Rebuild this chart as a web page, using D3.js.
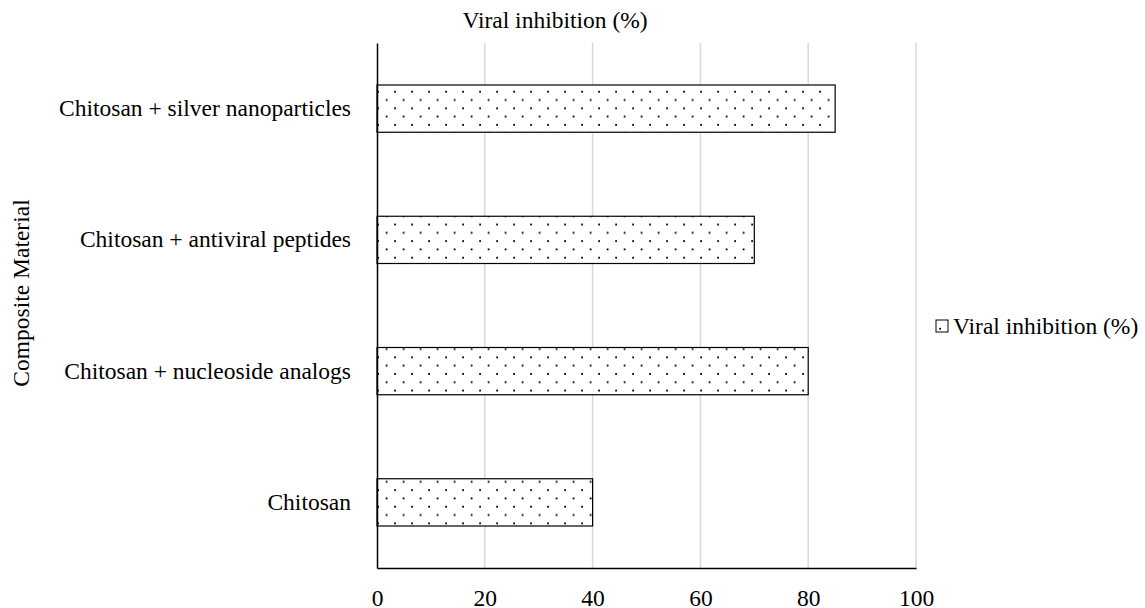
<!DOCTYPE html>
<html>
<head>
<meta charset="utf-8">
<script src="https://cdn.jsdelivr.net/npm/d3@7"></script>
<style>
  body { margin: 0; background: #fff; }
  text { font-family: "Liberation Serif", "Times New Roman", serif; fill: #000; }
</style>
</head>
<body>
<svg></svg>
<script>
var width = 1145;
var height = 608;

// data
var categories = ["Chitosan + silver nanoparticles", "Chitosan + antiviral peptides",
                  "Chitosan + nucleoside analogs", "Chitosan"];
var values = [85, 70, 80, 40];
var xTicks = [0, 20, 40, 60, 80, 100];
var seriesName = "Viral inhibition (%)";

var plot = { left: 377, right: 916, top: 43, bottom: 568 };
var fontSize = 23.5;

var svg = d3.select("svg")
            .attr("width", width)
            .attr("height", height);

// dotted fill
var defs = svg.append("defs");
var pat = defs.append("pattern")
              .attr("id", "dots")
              .attr("patternUnits", "userSpaceOnUse")
              .attr("x", plot.left)
              .attr("y", 83)
              .attr("width", 17)
              .attr("height", 16.6);
pat.append("rect").attr("width", 17).attr("height", 16.6).attr("fill", "#fff");
pat.append("rect").attr("x", 0.2).attr("y", 7.8).attr("width", 1.8).attr("height", 1.8).attr("fill", "#000");
pat.append("rect").attr("x", 8.7).attr("y", 16.1).attr("width", 1.8).attr("height", 1.8).attr("fill", "#000");
pat.append("rect").attr("x", 8.7).attr("y", -0.5).attr("width", 1.8).attr("height", 1.8).attr("fill", "#000");

var xScale = d3.scaleLinear()
               .domain([0, 100])
               .range([plot.left, plot.right]);

var yScale = d3.scaleBand()
               .domain(categories)
               .range([plot.top, plot.bottom])
               .padding(0);

// gridlines
svg.append("g")
   .selectAll("line")
   .data(xTicks.filter(function(d) { return d > 0; }))
   .enter()
   .append("line")
   .attr("x1", function(d) { return xScale(d); })
   .attr("x2", function(d) { return xScale(d); })
   .attr("y1", plot.top)
   .attr("y2", plot.bottom)
   .attr("stroke", "#d9d9d9")
   .attr("stroke-width", 1.5);

// bars
var barH = yScale.bandwidth() * 0.36;
svg.append("g")
   .selectAll("rect")
   .data(categories)
   .enter()
   .append("rect")
   .attr("x", xScale(0))
   .attr("y", function(d) { return yScale(d) + (yScale.bandwidth() - barH) / 2; })
   .attr("width", function(d, i) { return xScale(values[i]) - xScale(0); })
   .attr("height", barH)
   .attr("fill", "url(#dots)")
   .attr("stroke", "#000")
   .attr("stroke-width", 1.2);

// axes
var xAxis = svg.append("g")
   .attr("font-family", null)
   .attr("transform", "translate(0," + plot.bottom + ")")
   .call(d3.axisBottom(xScale).tickValues(xTicks).tickSize(0).tickPadding(21));
xAxis.attr("font-family", null);
xAxis.select(".domain").attr("stroke", "#000").attr("stroke-width", 1.5);
xAxis.selectAll("text").style("font-size", fontSize + "px");

var yAxis = svg.append("g")
   .attr("transform", "translate(" + plot.left + ",0)")
   .call(d3.axisLeft(yScale).tickSize(0).tickPadding(26));
yAxis.attr("font-family", null);
yAxis.select(".domain").attr("stroke", "#000").attr("stroke-width", 1.5);
yAxis.selectAll("text").style("font-size", fontSize + "px");

// titles
svg.append("text")
   .attr("x", 555)
   .attr("y", 28)
   .attr("text-anchor", "middle")
   .style("font-size", fontSize + "px")
   .text(seriesName);

svg.append("text")
   .attr("transform", "translate(29,293) rotate(-90)")
   .attr("text-anchor", "middle")
   .style("font-size", fontSize + "px")
   .text("Composite Material");

// legend
var legend = svg.append("g").attr("transform", "translate(936,320)");
legend.append("rect")
   .attr("width", 12)
   .attr("height", 12)
   .attr("fill", "url(#dots)")
   .attr("stroke", "#000")
   .attr("stroke-width", 1);
legend.append("text")
   .attr("x", 17)
   .attr("y", 14)
   .style("font-size", fontSize + "px")
   .text(seriesName);
</script>
</body>
</html>
